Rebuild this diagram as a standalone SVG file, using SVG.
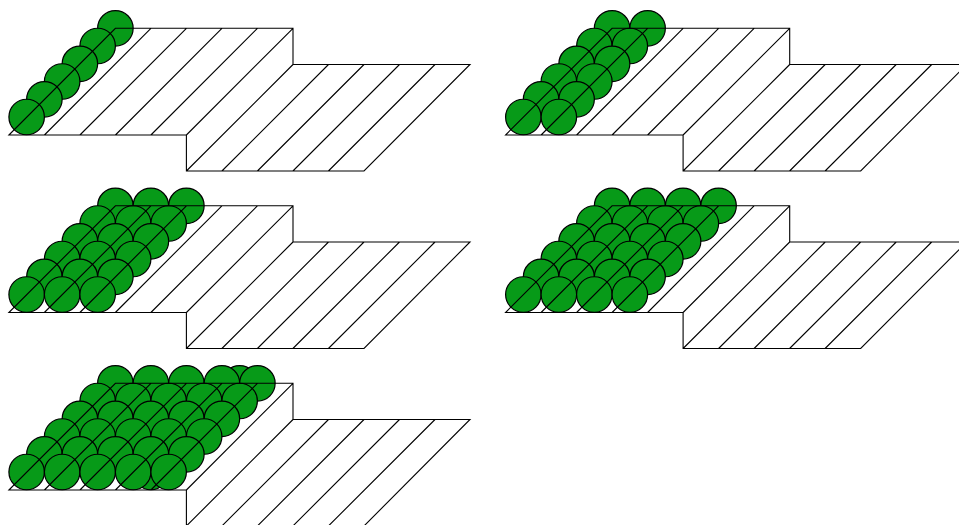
<svg xmlns="http://www.w3.org/2000/svg" xmlns:xlink="http://www.w3.org/1999/xlink" width="959" height="525" viewBox="0 0 959 525">
<style>
.c{fill:#079a18;stroke:#000;stroke-width:1.2}
.l{fill:none;stroke:#000;stroke-width:1.1}
</style>
<defs>
<circle id="b" class="c" r="17.75"/>
<path id="shape" class="l" d="M8.900 135H186.400V171H364L470 64.500H293V28.300H115.400ZM44.400 135 150.900 28.300M79.900 135 186.400 28.300M115.400 135 221.900 28.300M150.900 135 257.400 28.300M186.400 135 293 28.300M186.400 171 293 64.500M221.900 171 328.500 64.500M257.400 171 364 64.500M292.900 171 399.500 64.500M328.400 171 435 64.500"/>
<g id="col">
<use xlink:href="#b" x="115.400" y="28.300"/><use xlink:href="#b" x="97.650" y="46"/><use xlink:href="#b" x="79.900" y="63.800"/><use xlink:href="#b" x="62.150" y="81.500"/><use xlink:href="#b" x="44.400" y="99.300"/><use xlink:href="#b" x="26.650" y="117"/>
</g>
</defs>
<g id="panel-1">
<use xlink:href="#col"/>
<use xlink:href="#shape"/>
</g>
<g id="panel-2" transform="translate(496.700 0)">
<use xlink:href="#col"/><use xlink:href="#col" x="35.500"/>
<use xlink:href="#shape"/>
</g>
<g id="panel-3" transform="translate(0 177.500)">
<use xlink:href="#col"/><use xlink:href="#col" x="35.500"/><use xlink:href="#col" x="71"/>
<use xlink:href="#shape"/>
</g>
<g id="panel-4" transform="translate(496.700 177.500)">
<use xlink:href="#col"/><use xlink:href="#col" x="35.500"/><use xlink:href="#col" x="71"/><use xlink:href="#col" x="106.500"/>
<use xlink:href="#shape"/>
</g>
<g id="panel-5" transform="translate(0 355)">
<use xlink:href="#col" x="124.250"/><use xlink:href="#col"/><use xlink:href="#col" x="35.500"/><use xlink:href="#col" x="71"/><use xlink:href="#col" x="106.500"/><use xlink:href="#col" x="142"/>
<use xlink:href="#shape"/>
</g>
</svg>
